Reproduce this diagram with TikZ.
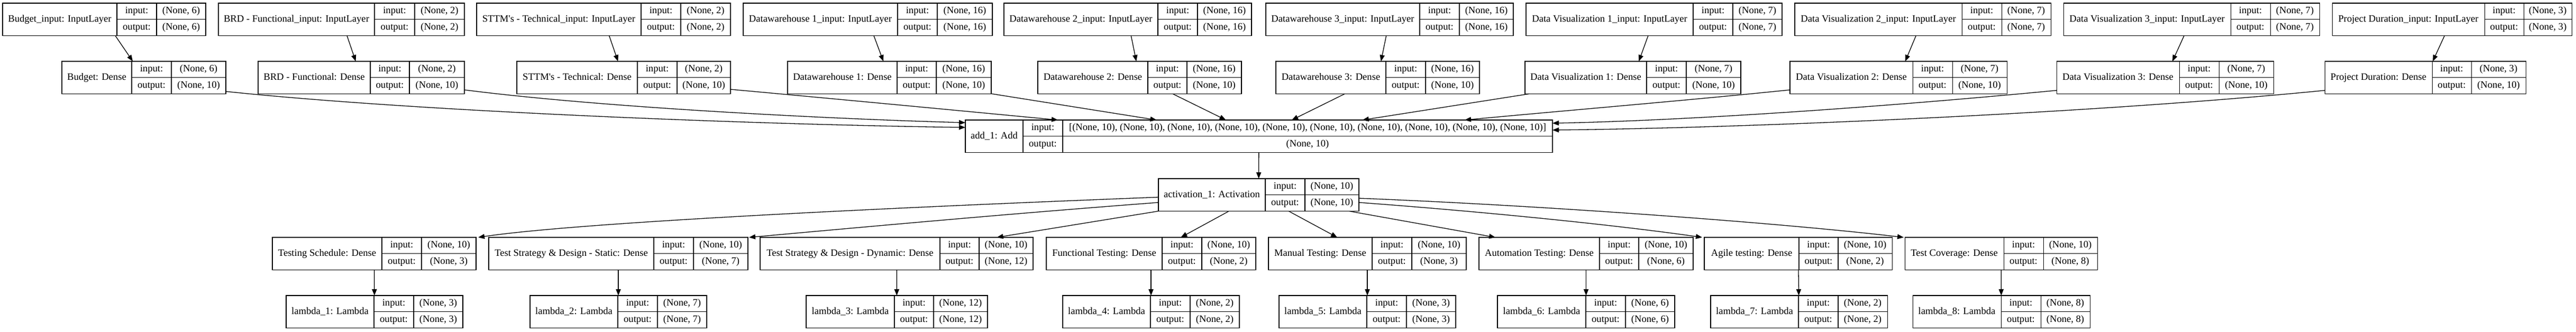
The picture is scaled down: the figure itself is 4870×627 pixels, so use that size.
\documentclass[tikz,border=0pt]{standalone}
\usepackage{fontspec}
\setmainfont{Liberation Serif}
\usetikzlibrary{calc,arrows.meta}
\tikzset{
  recbox/.style={draw, line width=0.55pt, inner sep=0pt, outer sep=0pt, anchor=north west},
  recline/.style={line width=0.55pt},
  txt/.style={inner sep=0pt, text height=6.5pt, text depth=1.9pt, font=\fontsize{9.3}{11}\selectfont},
  edge/.style={line width=0.65pt, -{Triangle[length=6pt,width=4.6pt]}},
}
% name, xleft, div1, div2, xright, ytop, label, in, out
\newcommand\rec[9]{%
  \node[recbox, minimum width={(#5-#2)*0.5pt}, minimum height=30.75pt] (#1) at (#2,#6) {};
  \draw[recline] (#3,#6) -- (#3,#6+61.5) (#4,#6) -- (#4,#6+61.5) (#3,#6+30.75) -- (#5,#6+30.75);
  \node[txt] (#1-l) at ({(#2+#3)/2},#6+30.75) {#7};
  \node[txt] (#1-a) at ({(#3+#4)/2},#6+15.375) {input:};
  \node[txt] (#1-b) at ({(#3+#4)/2},#6+46.125) {output:};
  \node[txt] (#1-c) at ({(#4+#5)/2},#6+15.375) {#8};
  \node[txt] (#1-d) at ({(#4+#5)/2},#6+46.125) {#9};
}
\begin{document}
\begin{tikzpicture}[x=0.5pt,y=-0.5pt]
\fill[white] (0,0) rectangle (4870,627);
\useasboundingbox (0,0) rectangle (4870,627);
% input layers
\rec{in1}{5}{221}{296}{389}{6}{Budget\_input: InputLayer}{(None, 6)}{(None, 6)}
\rec{in2}{413}{708}{784}{878}{6}{BRD - Functional\_input: InputLayer}{(None, 2)}{(None, 2)}
\rec{in3}{901}{1212}{1287}{1381}{6}{STTM\textquotesingle s - Technical\_input: InputLayer}{(None, 2)}{(None, 2)}
\rec{in4}{1405}{1697}{1772}{1876}{6}{Datawarehouse 1\_input: InputLayer}{(None, 16)}{(None, 16)}
\rec{in5}{1898}{2189}{2264}{2366}{6}{Datawarehouse 2\_input: InputLayer}{(None, 16)}{(None, 16)}
\rec{in6}{2393}{2684}{2759}{2861}{6}{Datawarehouse 3\_input: InputLayer}{(None, 16)}{(None, 16)}
\rec{in7}{2885}{3201}{3276}{3369}{6}{Data Visualization 1\_input: InputLayer}{(None, 7)}{(None, 7)}
\rec{in8}{3393}{3709}{3784}{3877}{6}{Data Visualization 2\_input: InputLayer}{(None, 7)}{(None, 7)}
\rec{in9}{3901}{4217}{4292}{4385}{6}{Data Visualization 3\_input: InputLayer}{(None, 7)}{(None, 7)}
\rec{in10}{4409}{4697}{4771}{4862}{6}{Project Duration\_input: InputLayer}{(None, 3)}{(None, 3)}
% dense layers
\rec{dn1}{117}{249}{324}{427}{116}{Budget: Dense}{(None, 6)}{(None, 10)}
\rec{dn2}{488}{700}{774}{878}{116}{BRD - Functional: Dense}{(None, 2)}{(None, 10)}
\rec{dn3}{977}{1205}{1280}{1381}{116}{STTM\textquotesingle s - Technical: Dense}{(None, 2)}{(None, 10)}
\rec{dn4}{1489}{1696}{1770}{1874}{116}{Datawarehouse 1: Dense}{(None, 16)}{(None, 10)}
\rec{dn5}{1962}{2170}{2244}{2347}{116}{Datawarehouse 2: Dense}{(None, 16)}{(None, 10)}
\rec{dn6}{2412}{2620}{2695}{2797}{116}{Datawarehouse 3: Dense}{(None, 16)}{(None, 10)}
\rec{dn7}{2883}{3113}{3188}{3291}{116}{Data Visualization 1: Dense}{(None, 7)}{(None, 10)}
\rec{dn8}{3384}{3616}{3691}{3794}{116}{Data Visualization 2: Dense}{(None, 7)}{(None, 10)}
\rec{dn9}{3888}{4120}{4195}{4298}{116}{Data Visualization 3: Dense}{(None, 7)}{(None, 10)}
\rec{dn10}{4395}{4598}{4672}{4775}{116}{Project Duration: Dense}{(None, 3)}{(None, 10)}
% add and activation
\rec{add}{1825}{1934}{2009}{2935}{227}{add\_1: Add}{[(None, 10), (None, 10), (None, 10), (None, 10), (None, 10), (None, 10), (None, 10), (None, 10), (None, 10), (None, 10)]}{(None, 10)}
\rec{act}{2190}{2392}{2467}{2569}{338}{activation\_1: Activation}{(None, 10)}{(None, 10)}
% output dense layers
\rec{ts1}{515}{722}{797}{900}{449}{Testing Schedule: Dense}{(None, 10)}{(None, 3)}
\rec{ts2}{924}{1236}{1311}{1414}{449}{Test Strategy \& Design - Static: Dense}{(None, 10)}{(None, 7)}
\rec{ts3}{1437}{1777}{1851}{1953}{449}{Test Strategy \& Design - Dynamic: Dense}{(None, 10)}{(None, 12)}
\rec{ts4}{1978}{2197}{2272}{2374}{449}{Functional Testing: Dense}{(None, 10)}{(None, 2)}
\rec{ts5}{2398}{2594}{2669}{2772}{449}{Manual Testing: Dense}{(None, 10)}{(None, 3)}
\rec{ts6}{2796}{3024}{3098}{3201}{449}{Automation Testing: Dense}{(None, 10)}{(None, 6)}
\rec{ts7}{3222}{3401}{3475}{3577}{449}{Agile testing: Dense}{(None, 10)}{(None, 2)}
\rec{ts8}{3601}{3788}{3863}{3965}{449}{Test Coverage: Dense}{(None, 10)}{(None, 8)}
% lambda layers
\rec{lm1}{541}{707}{782}{875}{559}{lambda\_1: Lambda}{(None, 3)}{(None, 3)}
\rec{lm2}{1002}{1168}{1243}{1336}{559}{lambda\_2: Lambda}{(None, 7)}{(None, 7)}
\rec{lm3}{1524}{1691}{1765}{1867}{559}{lambda\_3: Lambda}{(None, 12)}{(None, 12)}
\rec{lm4}{2009}{2175}{2250}{2343}{559}{lambda\_4: Lambda}{(None, 2)}{(None, 2)}
\rec{lm5}{2418}{2584}{2659}{2752}{559}{lambda\_5: Lambda}{(None, 3)}{(None, 3)}
\rec{lm6}{2831}{2998}{3073}{3166}{559}{lambda\_6: Lambda}{(None, 6)}{(None, 6)}
\rec{lm7}{3234}{3400}{3475}{3568}{559}{lambda\_7: Lambda}{(None, 2)}{(None, 2)}
\rec{lm8}{3616}{3783}{3858}{3951}{559}{lambda\_8: Lambda}{(None, 8)}{(None, 8)}
% edges: inputs to dense
\foreach \i in {1,...,10} { \draw[edge] (in\i) -- (dn\i); }
% dense to add
\draw[edge] ($(dn1.north east)+(0,57)$) .. controls (800,212) and (1450,236) .. ($(add.north west)+(0,14)$);
\draw[edge] ($(dn2.north east)+(0,54)$) .. controls (1150,205) and (1600,226) .. ($(add.north west)+(0,5)$);
\draw[edge] ($(dn3.north east)+(0,53)$) .. controls (1600,189) and (1800,208) .. ($(add.north west)+(175,0)$);
\draw[edge] (dn4) -- (add);
\draw[edge] (dn5) -- (add);
\draw[edge] (dn6) -- (add);
\draw[edge] (dn7) -- (add);
\draw[edge] ($(dn8.north west)+(0,54)$) .. controls (3200,189) and (2950,210) .. ($(add.north east)+(-166,0)$);
\draw[edge] ($(dn9.north west)+(0,55)$) .. controls (3500,208) and (3150,229) .. ($(add.north east)+(0,6)$);
\draw[edge] ($(dn10.north west)+(0,55)$) .. controls (3950,215) and (3300,242) .. ($(add.north east)+(0,19)$);
% add to activation
\draw[edge] (add) -- (act);
% activation to output dense
\draw[edge] ($(act.north west)+(0,35)$) .. controls (1700,392) and (1100,420) .. ($(ts1.north east)+(4,0)$);
\draw[edge] ($(act.north west)+(0,45)$) .. controls (1900,405) and (1650,428) .. ($(ts2.north east)+(2,0)$);
\draw[edge] (act) -- (ts3);
\draw[edge] (act) -- (ts4);
\draw[edge] (act) -- (ts5);
\draw[edge] (act) -- (ts6);
\draw[edge] ($(act.north east)+(0,45)$) .. controls (2800,400) and (3050,425) .. ($(ts7.north west)+(-4,0)$);
\draw[edge] ($(act.north east)+(0,37)$) .. controls (2900,388) and (3350,420) .. ($(ts8.north west)+(-2,0)$);
% output dense to lambda
\foreach \i in {1,...,8} { \draw[edge] (ts\i) -- (lm\i); }
\end{tikzpicture}
\end{document}
